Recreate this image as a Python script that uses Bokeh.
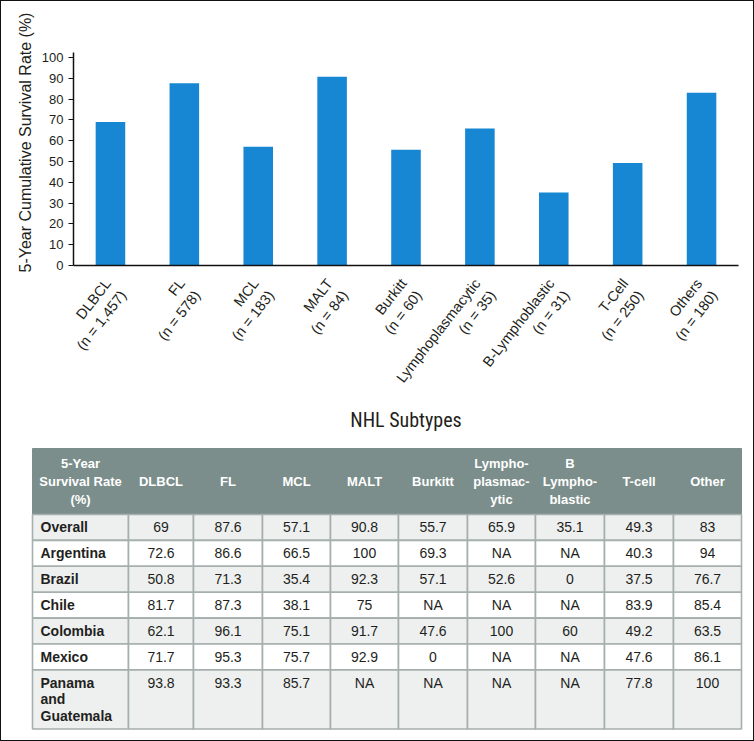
import math
from bokeh.plotting import figure
from bokeh.models import (Range1d, LinearAxis, FixedTicker, ColumnDataSource, Title)
from bokeh.layouts import column
from bokeh.embed import file_html
from bokeh.resources import INLINE
from bokeh.core.properties import value

# ---------------- data ----------------
subtypes = ["DLBCL", "FL", "MCL", "MALT", "Burkitt", "Lymphoplasmacytic",
            "B-Lymphoblastic", "T-Cell", "Others"]
n_cases = ["1,457", "578", "183", "84", "60", "35", "31", "250", "180"]
survival_5yr = [69, 87.6, 57.1, 90.8, 55.7, 65.9, 35.1, 49.3, 83]
y_ticks = [0, 10, 20, 30, 40, 50, 60, 70, 80, 90, 100]

table_header = ["5-Year\nSurvival Rate\n(%)", "DLBCL", "FL", "MCL", "MALT",
                "Burkitt", "Lympho-\nplasmac-\nytic", "B\nLympho-\nblastic",
                "T-cell", "Other"]
table_rows = ["Overall", "Argentina", "Brazil", "Chile", "Colombia", "Mexico",
              "Panama\nand\nGuatemala"]
row_overall = ["69", "87.6", "57.1", "90.8", "55.7", "65.9", "35.1", "49.3", "83"]
row_argentina = ["72.6", "86.6", "66.5", "100", "69.3", "NA", "NA", "40.3", "94"]
row_brazil = ["50.8", "71.3", "35.4", "92.3", "57.1", "52.6", "0", "37.5", "76.7"]
row_chile = ["81.7", "87.3", "38.1", "75", "NA", "NA", "NA", "83.9", "85.4"]
row_colombia = ["62.1", "96.1", "75.1", "91.7", "47.6", "100", "60", "49.2", "63.5"]
row_mexico = ["71.7", "95.3", "75.7", "92.9", "0", "NA", "NA", "47.6", "86.1"]
row_panama = ["93.8", "93.3", "85.7", "NA", "NA", "NA", "NA", "77.8", "100"]
table_values = [row_overall, row_argentina, row_brazil, row_chile,
                row_colombia, row_mexico, row_panama]

# ---------------- styles ----------------
FONT = "Liberation Sans"
NARROW = "Liberation Sans Narrow, Roboto Condensed, DejaVu Sans Condensed, sans-serif"
TXT = "#231f20"
BAR = "#1787d3"
HEAD = "#7b8e8b"
LIGHT = "#eef0f0"
GRID = "#a5afad"
LH = 1.149  # font ascent+descent factor used by Bokeh for multi-line text

# ---------------- bar chart ----------------
ncat = len(subtypes)
positions = list(range(ncat))  # category slots

p1 = figure(width=754, height=440,
            x_range=Range1d(-0.5, ncat - 0.5),
            y_range=Range1d(0, 102.4),
            x_axis_location=None,
            output_backend="svg", toolbar_location=None,
            min_border_left=73, min_border_right=16,
            min_border_top=52, min_border_bottom=175)
p1.frame_align = False
p1.outline_line_color = None
p1.grid.grid_line_color = None
p1.background_fill_color = "white"
p1.border_fill_color = "white"

src = ColumnDataSource(dict(x=positions, top=survival_5yr, name=subtypes))
p1.vbar(x="x", top="top", width=0.4, source=src, fill_color=BAR, line_color=None)

ya = p1.yaxis[0]
ya.ticker = FixedTicker(ticks=y_ticks)
ya.minor_tick_line_color = None
ya.major_tick_out = 5
ya.major_tick_in = 0
ya.major_label_standoff = 5
ya.major_label_text_font = FONT
ya.major_label_text_font_size = "13px"
ya.major_label_text_color = TXT
ya.axis_line_color = "#111111"
ya.axis_line_width = 1.5
ya.major_tick_line_color = "#111111"
ya.major_tick_line_width = 1.2

# y-axis title as a side title, aligned from the bottom like the original
ytitle = Title(text="5-Year Cumulative Survival Rate (%)", align="left", offset=-7,
               standoff=10, text_font=FONT, text_font_size="16px",
               text_font_style="normal", text_color=TXT)
p1.add_layout(ytitle, "left")

shift = 5 / 74
p1.extra_x_ranges = {"lab": Range1d(-0.5 - shift, ncat - 0.5 - shift)}
xa = LinearAxis(x_range_name="lab",
                ticker=FixedTicker(ticks=positions),
                major_label_overrides={i: f"{s}\n(n = {n})"
                                       for i, s, n in zip(positions, subtypes, n_cases)},
                major_label_orientation=0.91,
                major_tick_out=0, major_tick_in=0,
                minor_tick_out=0, minor_tick_in=0,
                major_tick_line_color=None, minor_tick_line_color=None,
                major_label_standoff=21,
                major_label_text_font=FONT,
                major_label_text_font_size="14.5px",
                major_label_text_color=TXT,
                axis_line_color="#111111", axis_line_width=1.5,
                axis_label="NHL Subtypes",
                axis_label_text_font=NARROW,
                axis_label_text_font_size="20px",
                axis_label_text_font_style="normal",
                axis_label_text_color=TXT,
                axis_label_standoff=-3)
p1.add_layout(xa, "below")

# ---------------- table ----------------
H2 = 301
p2 = figure(width=754, height=H2, x_range=Range1d(0, 754), y_range=Range1d(H2, 0),
            x_axis_type=None, y_axis_type=None, min_border=0,
            output_backend="svg", toolbar_location=None)
p2.frame_align = False
p2.outline_line_color = None
p2.grid.grid_line_color = None

col_widths = [96, 65, 69, 68, 68, 69, 68, 69, 69, 68]
table_left = 32
table_top = 8
header_h = 66
row_h = 25.9
line_h = 16.6
head_line_h = 17.5

col_edges = [table_left]
for w in col_widths:
    col_edges.append(col_edges[-1] + w)
col_centers = [(a + b) / 2 for a, b in zip(col_edges[:-1], col_edges[1:])]

row_tops = []
row_heights = []
y = table_top + header_h
for r in table_rows:
    nl = r.count("\n") + 1
    h = row_h + (nl - 1) * line_h
    row_tops.append(y)
    row_heights.append(h)
    y += h

# header block
p2.quad(left=[col_edges[0]], right=[col_edges[-1]], top=[table_top],
        bottom=[table_top + header_h], fill_color=HEAD, line_color=HEAD)

# body cells
cl, cr, ct, cb, cf = [], [], [], [], []
for ri, (t, h) in enumerate(zip(row_tops, row_heights)):
    for ci in range(len(col_widths)):
        cl.append(col_edges[ci]); cr.append(col_edges[ci + 1])
        ct.append(t); cb.append(t + h)
        cf.append(LIGHT if ri % 2 == 0 else "#ffffff")
p2.quad(left=cl, right=cr, top=ct, bottom=cb, fill_color=cf,
        line_color=GRID, line_width=1.6)

# header texts
p2.text(x=col_centers, y=[table_top + header_h / 2] * len(table_header),
        text=table_header, text_align="center", text_baseline="middle",
        text_font=value(FONT), text_font_style="bold", text_font_size="13px",
        text_color="white", text_line_height=head_line_h / (13 * LH))

# row labels
lab_y = [t + row_h / 2 + (r.count("\n")) * line_h / 2 for t, r in zip(row_tops, table_rows)]
p2.text(x=[table_left + 8] * len(table_rows), y=lab_y, text=table_rows,
        text_align="left", text_baseline="middle",
        text_font=value(FONT), text_font_style="bold", text_font_size="14px",
        text_color=TXT, text_line_height=line_h / (14 * LH))

# values
vx, vy, vt = [], [], []
for ri, vals in enumerate(table_values):
    for ci, v in enumerate(vals):
        vx.append(col_centers[ci + 1])
        vy.append(row_tops[ri] + row_h / 2)
        vt.append(v)
p2.text(x=vx, y=vy, text=vt, text_align="center", text_baseline="middle",
        text_font=value(FONT), text_font_size="14px", text_color=TXT)

frame_css = (":host { position: relative; } "
             ":host::after { content: ''; position: absolute; left: 0; top: 0; "
             "right: 0; bottom: 0; border: 1.5px solid #111111; "
             "pointer-events: none; z-index: 50; }")
layout = column(p1, p2, spacing=0, stylesheets=[frame_css])

open("out.html", "w").write(file_html(layout, INLINE))
